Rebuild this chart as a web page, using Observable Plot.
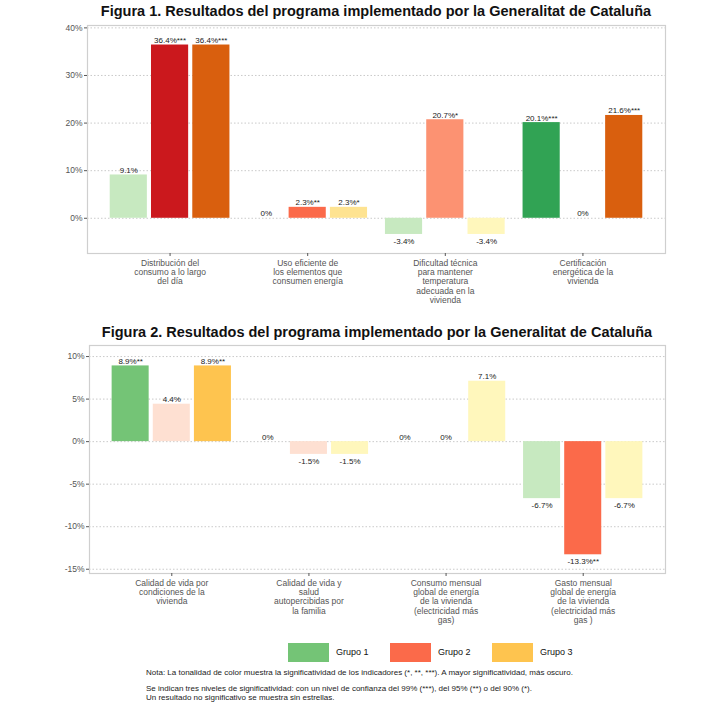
<!DOCTYPE html>
<html><head><meta charset="utf-8">
<script src="https://cdn.jsdelivr.net/npm/d3@7"></script>
<script src="https://cdn.jsdelivr.net/npm/@observablehq/plot@0.6"></script>
<style>
body{margin:0;background:#fff;font-family:"Liberation Sans",Arial,sans-serif;}
#page{position:relative;width:720px;height:711px;overflow:hidden;}
.abs{position:absolute;}
.title{font-weight:bold;font-size:14.5px;line-height:17px;text-align:center;color:#111;white-space:nowrap;}
.sw{width:41px;height:19px;}
.lg{font-size:9px;color:#111;line-height:19px;}
.note{font-size:8px;color:#222;line-height:9px;white-space:nowrap;}
</style></head><body><div id="page"></div>
<script>
const groups = ["Grupo 1", "Grupo 2", "Grupo 3"];
const fig1Title = "Figura 1. Resultados del programa implementado por la Generalitat de Cataluña";
const fig1Categories = [
  "Distribución del\nconsumo a lo largo\ndel día",
  "Uso eficiente de\nlos elementos que\nconsumen energía",
  "Dificultad técnica\npara mantener\ntemperatura\nadecuada en la\nvivienda",
  "Certificación\nenergética de la\nvivienda"
];
const fig1Values = [[9.1, 36.4, 36.4], [0, 2.3, 2.3], [-3.4, 20.7, -3.4], [20.1, 0, 21.6]];
const fig1Stars = [["", "***", "***"], ["", "**", "*"], ["", "*", ""], ["***", "", "***"]];
const fig1Ticks = [0, 10, 20, 30, 40];

const fig2Title = "Figura 2. Resultados del programa implementado por la Generalitat de Cataluña";
const fig2Categories = [
  "Calidad de vida por\ncondiciones de la\nvivienda",
  "Calidad de vida y\nsalud\nautopercibidas por\nla familia",
  "Consumo mensual\nglobal de energía\nde la vivienda\n(electricidad más\ngas)",
  "Gasto mensual\nglobal de energía\nde la vivienda\n(electricidad más\ngas )"
];
const fig2Values = [[8.9, 4.4, 8.9], [0, -1.5, -1.5], [0, 0, 7.1], [-6.7, -13.3, -6.7]];
const fig2Stars = [["**", "", "**"], ["", "", ""], ["", "", ""], ["", "**", ""]];
const fig2Ticks = [-15, -10, -5, 0, 5, 10];

const sigLevels = ["", "*", "**", "***"];
const palettes = [
  ["#c7e9c0", "#a1d99b", "#74c476", "#31a354"],
  ["#fee0d2", "#fc9272", "#fb6a4a", "#cb181d"],
  ["#fff7bc", "#fee391", "#fec44f", "#d95f0e"]
];
const legendColors = ["#74c476", "#fb6a4a", "#fec44f"];
const noteLines = [
  "Nota: La tonalidad de color muestra la significatividad de los indicadores (*, **, ***). A mayor significatividad, más oscuro.",
  "Se indican tres niveles de significatividad: con un nivel de confianza del 99% (***), del 95% (**) o del 90% (*).",
  "Un resultado no significativo se muestra sin estrellas."
];

const colorDomain = [], colorRange = [];
groups.forEach((g, gi) => sigLevels.forEach((s, si) => { colorDomain.push(g + "|" + s); colorRange.push(palettes[gi][si]); }));

const page = document.getElementById("page");
function place(el, top, left) { el.classList.add("abs"); el.style.top = top + "px"; el.style.left = left + "px"; page.appendChild(el); return el; }

function makeChart({cats, vals, stars, yDomain, ticks, ml, top, title, titleTop}) {
  const W = 720, mr = 55, mt = 5, mb = 52, panelH = 228;
  const inner = W - ml - mr;
  const n = cats.length;
  const step = inner / (n + 0.2);
  const slot = step * 0.9 / 3;
  const barW = slot * 0.9;
  const pi = 1 - barW / step;
  const po = (0.2 + pi) / 2;
  const rows = [];
  cats.forEach((c, ci) => groups.forEach((g, gi) => {
    const v = vals[ci][gi], s = stars[ci][gi];
    rows.push({cat: c, group: g, gi, value: v, key: g + "|" + s, label: String(v) + "%" + s});
  }));
  const marks = [
    Plot.gridY(ticks, {stroke: "#bdbdbd", strokeOpacity: 1, strokeDasharray: "1.5,2", strokeWidth: 0.8}),
    Plot.frame({stroke: "#cfcfcf", strokeWidth: 1.2}),
    Plot.axisY(ticks, {tickFormat: d => d + "%", tickSize: 3, tickPadding: 2, fontSize: 8.5, color: "#555", label: null}),
    Plot.axisX({tickSize: 3, tickPadding: 3, fontSize: 8.5, lineHeight: 1.08, color: "#555", label: null})
  ];
  groups.forEach((g, gi) => {
    const dx = (gi - 1) * slot;
    const sub = rows.filter(r => r.gi === gi);
    marks.push(Plot.barY(sub.filter(r => r.value !== 0), {x: "cat", y: "value", fill: "key", dx}));
    marks.push(Plot.text(sub.filter(r => r.value >= 0), {x: "cat", y: "value", text: "label", dx, dy: -2, lineAnchor: "bottom", fontSize: 8, fill: "#222"}));
    marks.push(Plot.text(sub.filter(r => r.value < 0), {x: "cat", y: "value", text: "label", dx, dy: 4, lineAnchor: "top", fontSize: 8, fill: "#222"}));
  });
  const svg = Plot.plot({
    width: W, height: mt + panelH + mb,
    marginLeft: ml, marginRight: mr, marginTop: mt, marginBottom: mb,
    style: {fontFamily: '"Liberation Sans", Arial, sans-serif', background: "transparent"},
    x: {type: "band", domain: cats, paddingInner: pi, paddingOuter: po, align: 0.5, round: false, label: null},
    y: {domain: yDomain, label: null},
    color: {type: "ordinal", domain: colorDomain, range: colorRange},
    marks
  });
  const t = document.createElement("div");
  t.className = "title"; t.textContent = title;
  t.style.width = inner + "px";
  place(t, titleTop, ml);
  place(svg, top, 0);
}

makeChart({cats: fig1Categories, vals: fig1Values, stars: fig1Stars, yDomain: [-7.4, 40.5], ticks: fig1Ticks, ml: 87, top: 20, title: fig1Title, titleTop: 3});
makeChart({cats: fig2Categories, vals: fig2Values, stars: fig2Stars, yDomain: [-15.5, 11.3], ticks: fig2Ticks, ml: 89, top: 339.5, title: fig2Title, titleTop: 324});

// legend
const legendLeft = [288, 390, 492];
groups.forEach((g, gi) => {
  const sw = document.createElement("div"); sw.className = "sw"; sw.style.background = legendColors[gi];
  place(sw, 643, legendLeft[gi]);
  const lb = document.createElement("div"); lb.className = "lg"; lb.textContent = g;
  place(lb, 643, legendLeft[gi] + 48);
});
const noteTops = [668, 684, 693];
noteLines.forEach((l, i) => { const d = document.createElement("div"); d.className = "note"; d.textContent = l; place(d, noteTops[i], 146); });
</script>
</body></html>
